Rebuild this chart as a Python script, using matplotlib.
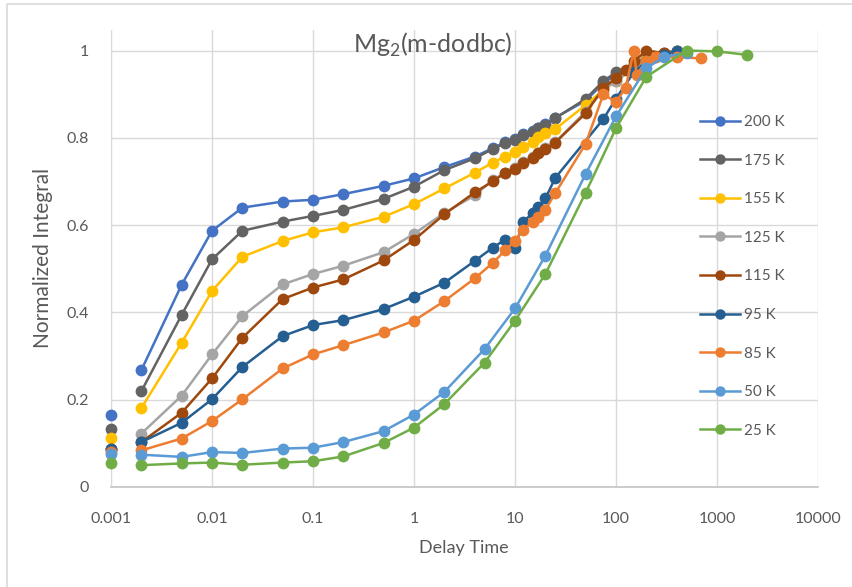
import matplotlib
matplotlib.use("Agg")
import matplotlib.pyplot as plt
from matplotlib.lines import Line2D

plt.rcParams['font.family'] = ['Lato', 'DejaVu Sans']

# ---------------- data ----------------
labels = ["200 K", "175 K", "155 K", "125 K", "115 K", "95 K", "85 K", "50 K", "25 K"]
colors = ["#4472C4", "#636363", "#FFC000", "#A5A5A5", "#9E480E", "#255E91", "#ED7D31", "#5B9BD5", "#70AD47"]

t0 = 0.001
t0_values = [0.164, 0.132, 0.113, 0.085, 0.088, 0.086, 0.080, 0.075, 0.056]

t_early = [0.002, 0.005, 0.01, 0.02, 0.05, 0.1, 0.2, 0.5, 1, 2]
t_dense = [4, 6, 8, 10, 12, 15, 17, 20, 25]

t_200 = t_early + t_dense + [50, 75, 100, 150, 200, 300, 400]
y_200 = [0.268, 0.463, 0.587, 0.640, 0.654, 0.658, 0.671, 0.690, 0.707, 0.733,
         0.757, 0.776, 0.790, 0.797, 0.808, 0.816, 0.823, 0.831, 0.846,
         0.885, 0.925, 0.945, 0.965, 0.975, 0.990, 1.000]

t_175 = t_early + t_dense + [50, 75, 100, 150, 200, 300, 400]
y_175 = [0.2195, 0.394, 0.5215, 0.587, 0.608, 0.621, 0.635, 0.660, 0.688, 0.726,
         0.753, 0.774, 0.788, 0.795, 0.807, 0.814, 0.822, 0.830, 0.845,
         0.889, 0.930, 0.950, 0.970, 0.985, 0.995, 1.000]

t_155 = t_early + t_dense + [50, 75, 100, 150, 200, 300, 400]
y_155 = [0.181, 0.330, 0.449, 0.5275, 0.5635, 0.5835, 0.595, 0.619, 0.648, 0.684,
         0.720, 0.743, 0.757, 0.768, 0.780, 0.791, 0.803, 0.812, 0.820,
         0.875, 0.910, 0.930, 0.960, 0.980, 0.990, 1.000]

t_125 = t_early + t_dense + [50, 75, 100, 150, 200, 300, 400]
y_125 = [0.1225, 0.209, 0.3036, 0.3915, 0.464, 0.488, 0.507, 0.538, 0.580, 0.628,
         0.668, 0.703, 0.720, 0.731, 0.744, 0.755, 0.766, 0.776, 0.790,
         0.860, 0.910, 0.930, 0.960, 0.975, 0.990, 0.995]

t_115 = t_early + t_dense + [50, 75, 100, 125, 150, 200, 300]
y_115 = [0.103, 0.170, 0.2486, 0.3418, 0.4305, 0.457, 0.4756, 0.519, 0.566, 0.625,
         0.675, 0.700, 0.720, 0.729, 0.742, 0.753, 0.765, 0.774, 0.789,
         0.856, 0.914, 0.937, 0.955, 0.975, 1.000, 0.994]

t_95 = t_early + t_dense + [75, 100, 150, 200, 300, 400]
y_95 = [0.103, 0.147, 0.201, 0.275, 0.3457, 0.371, 0.3823, 0.4076, 0.436, 0.468,
        0.518, 0.548, 0.567, 0.547, 0.608, 0.627, 0.642, 0.661, 0.708,
        0.843, 0.890, 0.950, 0.975, 0.990, 1.000]

t_85 = t_early + t_dense + [50, 75, 100, 125, 150, 160, 200, 250, 400, 700]
y_85 = [0.084, 0.111, 0.151, 0.201, 0.2715, 0.3036, 0.325, 0.354, 0.381, 0.426,
        0.478, 0.513, 0.542, 0.564, 0.589, 0.608, 0.619, 0.635, 0.673,
        0.786, 0.900, 0.882, 0.915, 1.000, 0.945, 0.975, 0.985, 0.985, 0.982]

t_50 = t_early + [5, 10, 20, 50, 100, 200, 300, 500]
y_50 = [0.074, 0.069, 0.080, 0.078, 0.088, 0.090, 0.103, 0.128, 0.166, 0.218,
        0.316, 0.409, 0.530, 0.717, 0.849, 0.960, 0.985, 0.995]

t_25 = t_early + [5, 10, 20, 50, 100, 200, 500, 1000, 2000]
y_25 = [0.050, 0.054, 0.056, 0.051, 0.056, 0.059, 0.070, 0.101, 0.136, 0.190,
        0.285, 0.381, 0.488, 0.674, 0.822, 0.940, 1.000, 0.998, 0.990]

series_t = [t_200, t_175, t_155, t_125, t_115, t_95, t_85, t_50, t_25]
series_y = [y_200, y_175, y_155, y_125, y_115, y_95, y_85, y_50, y_25]

x_ticks = [0.001, 0.01, 0.1, 1, 10, 100, 1000, 10000]
x_tick_labels = ["0.001", "0.01", "0.1", "1", "10", "100", "1000", "10000"]
y_ticks = [0, 0.2, 0.4, 0.6, 0.8, 1.0]
y_tick_labels = ["0", "0.2", "0.4", "0.6", "0.8", "1"]

title = r"Mg$_\mathregular{2}$(m-dodbc)"
x_label = "Delay Time"
y_label = "Normalized Integral"

# ---------------- figure ----------------
W, H = 852, 587
fig = plt.figure(figsize=(W / 100, H / 100), dpi=100)
fig.patch.set_facecolor("white")

ax = fig.add_axes([111 / W, 1 - 487 / H, (818 - 111) / W, (487 - 30) / H])
ax.set_xscale("log")
ax.set_xlim(0.001, 10000)
ax.set_ylim(0, 1.047)

text_color = "#595959"
grid_color = "#D9D9D9"

ax.set_xticks(x_ticks)
ax.set_xticklabels(x_tick_labels)
ax.xaxis.set_minor_locator(matplotlib.ticker.NullLocator())
ax.set_yticks(y_ticks)
ax.set_yticklabels(y_tick_labels)
ax.tick_params(axis="both", length=0, labelsize=11.5, labelcolor=text_color)
ax.tick_params(axis="x", pad=18)
ax.tick_params(axis="y", pad=16)
ax.grid(True, color=grid_color, linewidth=1.0)
ax.set_axisbelow(True)
for s in ["top", "right"]:
    ax.spines[s].set_visible(False)
ax.spines["left"].set_color(grid_color)
ax.spines["bottom"].set_color("#C8C8C8")
ax.spines["bottom"].set_linewidth(1.3)

handles = []
for i in range(len(labels)):
    h, = ax.plot(series_t[i], series_y[i], color=colors[i], linewidth=1.8,
                 marker="o", markersize=8.5, markeredgewidth=0, zorder=3 + 0.01 * i)
    ax.plot([t0], [t0_values[i]], color=colors[i], linestyle="none",
            marker="o", markersize=8.5, markeredgewidth=0, clip_on=False, zorder=3)
    handles.append(h)

leg = ax.legend(handles, labels, loc="upper left",
                bbox_to_anchor=(700 / W, 1 - 115 / H), bbox_transform=fig.transFigure,
                frameon=False, fontsize=11, labelcolor=text_color,
                handlelength=2.6, handletextpad=0.3, labelspacing=1.61,
                borderpad=0, borderaxespad=0)
for lh in leg.legend_handles:
    lh.set_markersize(7.5)

fig.text(433 / W, 1 - 45 / H, title, ha="center", va="center",
         fontsize=18, color=text_color)
fig.text(464 / W, 1 - 548 / H, x_label, ha="center", va="center",
         fontsize=13, color=text_color)
fig.text(43 / W, 1 - 258 / H, y_label, ha="center", va="center",
         rotation=90, fontsize=15, color=text_color)

# chart border
fig.add_artist(Line2D([7 / W, 7 / W, 1.0], [0.0, 1 - 4 / H, 1 - 4 / H],
                      transform=fig.transFigure, color="#D9D9D9", linewidth=1.2))

fig.savefig("out.png", dpi=100)
